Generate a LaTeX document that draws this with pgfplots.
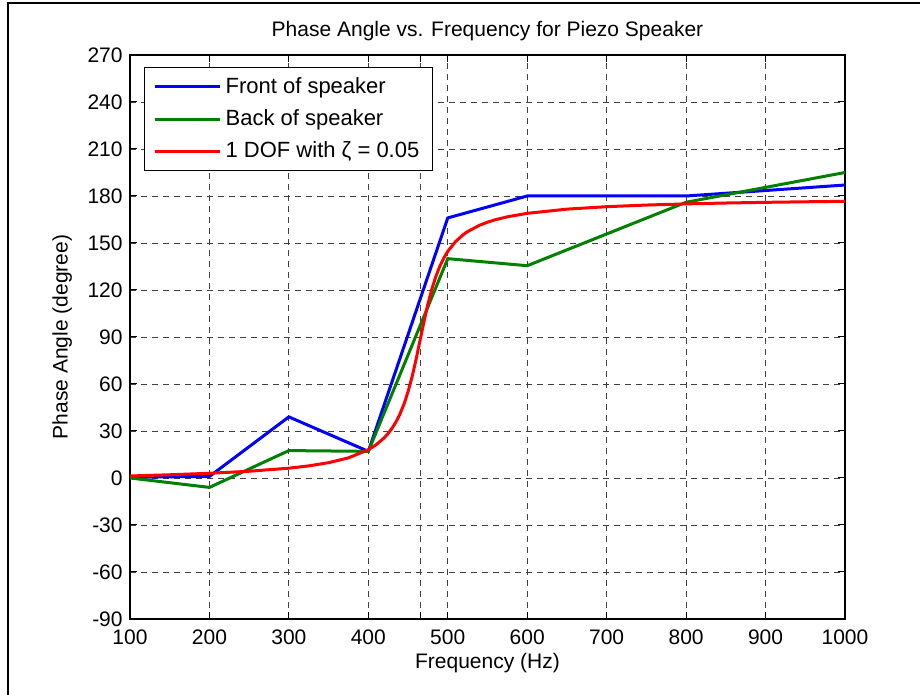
\documentclass[border=0pt]{standalone}
\usepackage{pgfplots}
\pgfplotsset{compat=1.18}
\usepackage{fontspec}
\setmainfont{Liberation Sans}
\begin{document}
\fontsize{10.5bp}{12.6bp}\selectfont
\begin{tikzpicture}
\useasboundingbox (0,0) rectangle (460bp,347.5bp);
\draw[line width=1bp] (4bp,0) -- (4bp,346bp) -- (460bp,346bp);
\begin{axis}[
  at={(65bp,38bp)}, anchor=south west,
  scale only axis, width=357.5bp, height=282bp,
  xmin=100, xmax=1000, ymin=-90, ymax=270,
  xtick={100,200,...,1000},
  ytick={-90,-60,...,270},
  extra x ticks={466}, extra x tick labels={},
  extra x tick style={grid=major},
  grid=major,
  major grid style={black!75, line width=0.4bp, dash pattern=on 3bp off 2.5bp},
  tick align=inside, tick pos=both, major tick length=3.5bp,
  every tick/.style={black, line width=0.5bp},
  axis line style={line width=0.6bp},
  /pgf/number format/assume math mode=true,
  /pgf/number format/1000 sep={},
  ticklabel style={font=\fontsize{10.5bp}{12.6bp}\selectfont},
  xticklabel style={yshift=-1.5bp},
  title={Phase Angle vs. Frequency for Piezo Speaker},
  title style={at={(axis description cs:0.5,1.021)}, anchor=center},
  xlabel={Frequency (Hz)},
  xlabel style={at={(axis description cs:0.5,-0.078)}, anchor=center},
  ylabel={Phase Angle (degree)},
  ylabel style={at={(axis description cs:-0.095,0.5)}, anchor=center, rotate=0},
  legend style={at={(axis description cs:0.0196,0.979)}, anchor=north west,
    draw=black, line width=0.6bp, fill=white, inner xsep=4.5bp, inner ysep=3bp,
    row sep=2.5bp, font=\fontsize{11bp}{13.2bp}\selectfont},
  legend cell align=left,
  legend image code/.code={\draw[#1, line width=1.5bp] (0bp,0bp) -- (32.5bp,0bp);},
]
\addplot[blue, line width=1.5bp] coordinates {
(100,0.5) (200,1) (300,39) (400,17) (500,166) (600,180) (800,180) (1000,187)};
\addlegendentry{Front of speaker}
\addplot[green!50!black, line width=1.5bp] coordinates {
(100,0) (200,-6) (300,17.5) (400,17) (500,140) (600,135.5) (800,176) (1000,195)};
\addlegendentry{Back of speaker}
\addplot[red, line width=1.5bp] coordinates {
(100,1.29) (150,2.06) (200,3.01) (250,4.31) (300,6.27) (325,7.73) (350,9.78) (375,12.86)
(400,18.06) (410,21.28) (420,25.65) (425,28.46) (430,31.85) (435,35.98) (440,41.04)
(445,47.30) (450,55.05) (455,64.46) (460,75.47) (465,87.54) (470,99.70) (475,110.93)
(480,120.63) (485,128.64) (490,135.14) (495,140.38) (500,144.65) (510,151.04)
(520,155.53) (525,157.30) (540,161.33) (550,163.28) (560,164.86) (575,166.71)
(600,168.93) (650,171.61) (700,173.18) (750,174.22) (800,174.96) (850,175.52)
(900,175.95) (950,176.30) (1000,176.60)};
\addlegendentry{1 DOF with ζ = 0.05}
\end{axis}
\end{tikzpicture}
\end{document}
